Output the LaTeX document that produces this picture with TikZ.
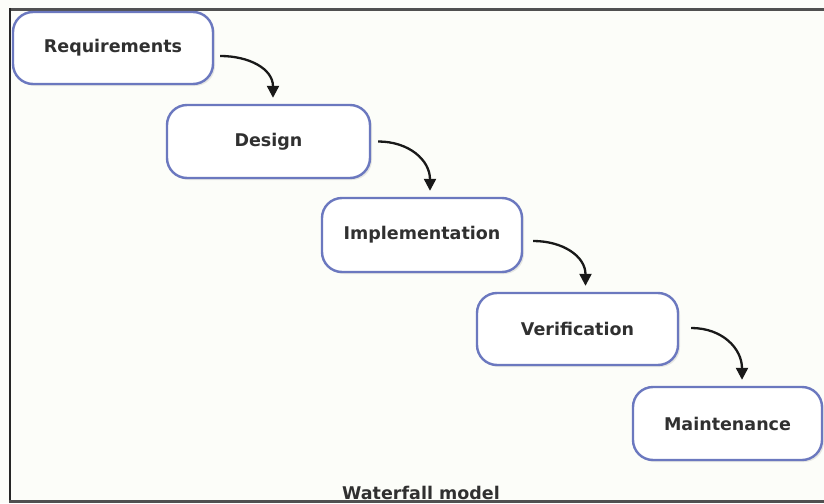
\documentclass[tikz,border=0pt]{standalone}
\usepackage{fontspec}
\setmainfont{DejaVu Sans}
\usetikzlibrary{arrows.meta,shadows,calc}
\definecolor{bg}{HTML}{FCFDF9}
\definecolor{boxline}{HTML}{6B78BF}
\definecolor{txt}{HTML}{303030}
\definecolor{frame}{HTML}{505050}
\tikzset{
  phase/.style={draw=boxline, line width=2.4pt, rounded corners=20pt, fill=white,
    minimum width=200pt, minimum height=72pt, inner sep=0pt,
    font=\fontsize{17.5}{19}\selectfont\bfseries, text=txt,
    drop shadow={opacity=0.18, shadow xshift=2pt, shadow yshift=-2pt}},
  flow/.style={line width=2.3pt, black!90, -{Triangle[width=12pt,length=12pt]}},
  caption/.style={font=\fontsize{17.5}{19}\selectfont\bfseries, text=txt, inner sep=0pt, anchor=base}
}
\begin{document}
\begin{tikzpicture}[x=1pt,y=-1pt]
\useasboundingbox (0,0) rectangle (824,503);
\fill[bg] (0,0) rectangle (824,503);
\node[caption] (cap) at (421,499) {Waterfall model};
% frame
\draw[frame, line width=3pt] (10,9.5) -- (824,9.5);
\draw[black!85, line width=2pt] (10,8) -- (10,502);
\draw[frame, line width=2.5pt] (9,501.5) -- (824,501.5);
% phases
\node[phase] (req) at (113,48) {Requirements};
\node[phase, minimum width=203pt, minimum height=73pt] (des) at (268.5,141.5) {Design};
\node[phase, minimum height=74pt] (imp) at (422,235) {Implementation};
\node[phase, minimum width=201pt] (ver) at (577.5,329) {Verification};
\node[phase, minimum width=189pt, minimum height=73pt] (mai) at (727.5,423.5) {Maintenance};
% connectors
\draw[flow] ($(req.east)+(6,8)$) to[out=0,in=90,looseness=1.1] ($(des.north)+(4.5,-6)$);
\draw[flow] ($(des.east)+(7,0)$) to[out=0,in=90,looseness=1.1] ($(imp.north)+(8,-6)$);
\draw[flow] ($(imp.east)+(10,6)$) to[out=0,in=90,looseness=1.1] ($(ver.north)+(8,-6)$);
\draw[flow] ($(ver.east)+(12,-1)$) to[out=0,in=90,looseness=1.1] ($(mai.north)+(14.5,-6)$);
\end{tikzpicture}
\end{document}
